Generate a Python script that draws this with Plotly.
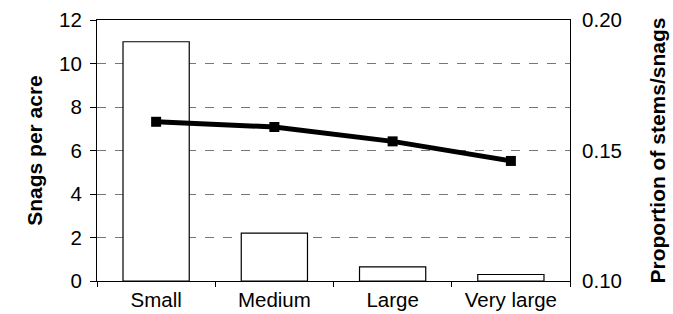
import plotly.graph_objects as go

categories = ["Small", "Medium", "Large", "Very large"]
snags_per_acre = [11.0, 2.2, 0.65, 0.3]
proportion = [0.161, 0.159, 0.1535, 0.146]

fig = go.Figure()
fig.add_trace(go.Bar(
    x=categories, y=snags_per_acre, width=0.56,
    marker=dict(color="white", line=dict(color="black", width=1.2)),
    yaxis="y", showlegend=False,
))
fig.add_trace(go.Scatter(
    x=categories, y=proportion, mode="lines+markers",
    line=dict(color="black", width=5),
    marker=dict(symbol="square", size=10, color="black"),
    yaxis="y2", showlegend=False,
))

fam = "Liberation Sans, Arial, sans-serif"
font = dict(family=fam, size=20.5, color="black")
tfont = dict(family=fam, size=21, color="black")
fig.update_layout(
    width=673, height=314,
    margin=dict(l=97, r=103, t=20, b=33),
    plot_bgcolor="white", paper_bgcolor="white",
    font=font,
    xaxis=dict(
        showline=True, linecolor="black", linewidth=1.2, mirror=True,
        ticks="outside", ticklen=5, tickcolor="black", tickson="boundaries",
        showgrid=False, tickfont=font, automargin=False,
    ),
    yaxis=dict(
        range=[0, 12], dtick=2, showline=True, linecolor="black", linewidth=1.2,
        mirror=True, ticks="outside", ticklen=6, tickcolor="black",
        showgrid=True, gridcolor="#777777", griddash="dash", gridwidth=1,
        zeroline=False, tickfont=font, automargin=False, ticklabelstandoff=4,
        title=dict(text="<b>Snags per acre</b>", font=tfont, standoff=10),
    ),
    yaxis2=dict(
        range=[0.10, 0.20], dtick=0.05, tickformat=".2f", overlaying="y", side="right",
        showgrid=False, zeroline=False, ticks="outside", ticklen=7, tickcolor="rgba(0,0,0,0)",
        tickfont=font, showline=False, automargin=False,
        title=dict(text="<b>Proportion of stems/snags</b>", font=tfont, standoff=29),
    ),
)
fig.write_html("out.html", config={"displayModeBar": False},
               post_script="document.body.style.margin='0';")
